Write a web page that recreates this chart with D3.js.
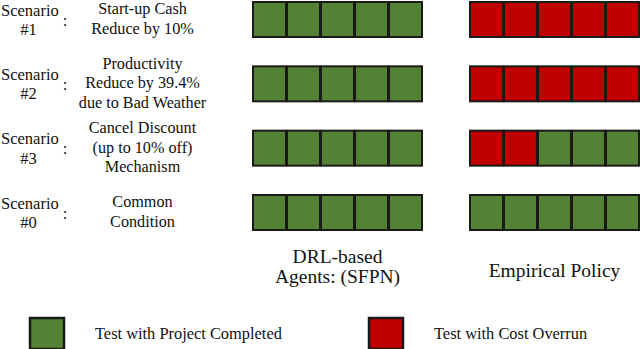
<!DOCTYPE html>
<html>
<head>
<meta charset="utf-8">
<script src="https://cdn.jsdelivr.net/npm/d3@7"></script>
<style>
  body { margin: 0; background: #fff; }
</style>
</head>
<body>
<svg id="chart" width="640" height="349"></svg>
<script>
// rows from top to bottom
const scenarioIds = ["#1", "#2", "#3", "#0"];
const descriptions = [
  ["Start-up Cash", "Reduce by 10%"],
  ["Productivity", "Reduce by 39.4%", "due to Bad Weather"],
  ["Cancel Discount", "(up to 10% off)", "Mechanism"],
  ["Common", "Condition"]
];
// 1 = project completed, 0 = cost overrun
const drlResults = [
  [1, 1, 1, 1, 1],
  [1, 1, 1, 1, 1],
  [1, 1, 1, 1, 1],
  [1, 1, 1, 1, 1]
];
const empiricalResults = [
  [0, 0, 0, 0, 0],
  [0, 0, 0, 0, 0],
  [0, 0, 1, 1, 1],
  [1, 1, 1, 1, 1]
];
const groupLabels = [["DRL-based", "Agents: (SFPN)"], ["Empirical Policy"]];
const legendLabels = ["Test with Project Completed", "Test with Cost Overrun"];

const green = "#548235", red = "#c00000", edge = "#1a1a1a";
const color = d => d ? green : red;
const serif = "'Liberation Serif', 'Times New Roman', serif";

const svg = d3.select("#chart")
  .attr("font-family", serif)
  .attr("fill", "#111");

const y = d3.scaleLinear().domain([0, 3]).range([2, 195]);
const col = d3.scaleLinear().domain([0, 4]).range([0, 136]);
const groupX = [253, 470];
const boxW = 33, boxH = 35;

// squares
[drlResults, empiricalResults].forEach((res, g) => {
  res.forEach((row, r) => {
    svg.selectAll(null)
      .data(row)
      .enter()
      .append("rect")
      .attr("x", (d, i) => groupX[g] + col(i))
      .attr("y", y(r))
      .attr("width", boxW)
      .attr("height", boxH)
      .attr("fill", d => color(d))
      .attr("stroke", edge)
      .attr("stroke-width", 2);
  });
});

function label(sel, x, yy, t, size, anchor) {
  return sel.append("text")
    .attr("x", x).attr("y", yy)
    .attr("text-anchor", anchor || "middle")
    .style("font-family", serif)
    .style("font-size", size + "px")
    .style("fill", "#111")
    .text(t);
}

// scenario labels
const lineH = 19.5;
scenarioIds.forEach((id, r) => {
  const mid = y(r) + boxH / 2 + 5;
  const g = svg.append("g");
  label(g, 1, mid - 9, "Scenario", 16.5, "start");
  label(g, 28.5, mid + 10.5, id, 16.5);
  label(g, 65, mid + 1, ":", 16.5);

  const lines = descriptions[r];
  const top = mid - (lines.length - 1) * lineH / 2 - 0.5;
  lines.forEach((t, i) => label(g, 142.5, top + i * lineH, t, 16.2));
});

// group labels
const groupBase = [263, 277];
groupLabels.forEach((lines, g) => {
  const cx = groupX[g] + col(4) / 2 + boxW / 2;
  lines.forEach((t, i) => label(svg, cx, groupBase[g] + i * 19.5, t, 19.5));
});

// legend
const legX = [30, 369];
legendLabels.forEach((t, i) => {
  svg.append("rect")
    .attr("x", legX[i]).attr("y", 318)
    .attr("width", 34).attr("height", 31)
    .attr("fill", i === 0 ? green : red)
    .attr("stroke", edge)
    .attr("stroke-width", 2.5);
  label(svg, legX[i] + 65, 339, t, 16.4, "start");
});
</script>
</body>
</html>
